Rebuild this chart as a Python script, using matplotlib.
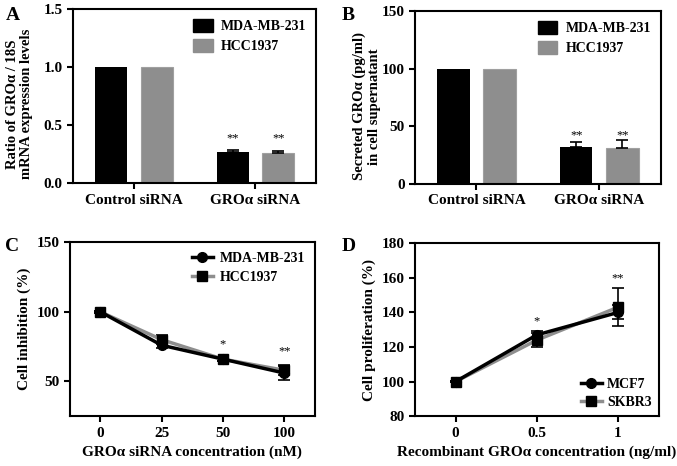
import numpy as np
import matplotlib
matplotlib.use("Agg")
import matplotlib.pyplot as plt
from matplotlib.patches import Patch
from matplotlib.lines import Line2D

plt.rcParams['font.family'] = ['Liberation Serif', 'DejaVu Serif']
plt.rcParams['font.weight'] = 'bold'
plt.rcParams['axes.linewidth'] = 1.5

# panel A / B data
groups = ["Control siRNA", "GROα siRNA"]
a_mda = [1.0, 0.27]
a_mda_err = [0.0, 0.015]
a_hcc = [1.0, 0.26]
a_hcc_err = [0.0, 0.02]
b_mda = [100, 32]
b_mda_err = [0, 4.5]
b_hcc = [100, 31]
b_hcc_err = [0, 7]

# panel C data
c_labels = ["0", "25", "50", "100"]
c_mda = [100, 76, 66, 56]
c_mda_err = [0.5, 2, 1.5, 5]
c_hcc = [100, 80, 66, 58]
c_hcc_err = [0.5, 3, 1.5, 3.5]

# panel D data
d_x = [0, 0.5, 1]
d_labels = ["0", "0.5", "1"]
d_mcf = [100, 127, 140]
d_mcf_err = [0.5, 2, 4]
d_skb = [100, 124, 143]
d_skb_err = [0.5, 4, 11]

black = "#000000"
gray = "#8e8e8e"

fig = plt.figure(figsize=(6.77, 4.66), dpi=100)
axA = fig.add_axes([0.108, 0.607, 0.359, 0.373])
axB = fig.add_axes([0.613, 0.605, 0.363, 0.371])
axC = fig.add_axes([0.103, 0.107, 0.362, 0.373])
axD = fig.add_axes([0.613, 0.107, 0.360, 0.371])


def style(ax):
    for s in ax.spines.values():
        s.set_linewidth(1.5)
    ax.tick_params(direction='out', length=4, width=1.5, labelsize=11)
    for t in ax.get_xticklabels() + ax.get_yticklabels():
        t.set_fontweight('bold')


def bars(ax, m, me, h, he, ylim, yticks, ylabel, star_y):
    x = np.arange(len(groups))
    w = 0.264
    off = 0.188
    ax.bar(x - off, m, w, color=black, zorder=2)
    ax.bar(x + off, h, w, color=gray, edgecolor="#a0a0a0", linewidth=0.8, zorder=2)
    # only the knockdown group has error bars
    ax.errorbar([1 - off], [m[1]], yerr=[[0], [me[1]]], fmt='none', ecolor=black,
                elinewidth=1.2, capsize=4, capthick=1.2, zorder=3)
    ax.errorbar([1 + off], [h[1]], yerr=[[0], [he[1]]], fmt='none', ecolor=black,
                elinewidth=1.2, capsize=4, capthick=1.2, zorder=3)
    ax.text(1 - off, star_y, "**", ha='center', va='center', fontsize=9, fontweight='normal')
    ax.text(1 + off, star_y, "**", ha='center', va='center', fontsize=9, fontweight='normal')
    ax.set_xlim(-0.5, 1.5)
    ax.set_ylim(*ylim)
    ax.set_yticks(yticks)
    ax.set_xticks(x)
    ax.set_xticklabels(groups)
    ax.set_ylabel(ylabel, fontsize=10.5, fontweight='bold', linespacing=1.15)
    handles = [Patch(color=black), Patch(color=gray)]
    ax.legend(handles, ["MDA-MB-231", "HCC1937"], loc='upper right', frameon=False,
              handlelength=1.4, handleheight=1.1, borderaxespad=0.3,
              labelspacing=0.4, handletextpad=0.6, prop=dict(weight='bold', size=10))
    style(ax)


bars(axA, a_mda, a_mda_err, a_hcc, a_hcc_err, (0, 1.5), [0.0, 0.5, 1.0, 1.5],
     "Ratio of GROα / 18S\nmRNA expression levels", 0.39)
axA.set_yticklabels(["0.0", "0.5", "1.0", "1.5"])
axA.yaxis.set_label_coords(-0.165, 0.455)
bars(axB, b_mda, b_mda_err, b_hcc, b_hcc_err, (0, 150), [0, 50, 100, 150],
     "Secreted GROα (pg/ml)\nin cell supernatant", 42.5)
axB.yaxis.set_label_coords(-0.14, 0.45)
style(axA)
style(axB)

# panel C
xc = np.arange(len(c_labels))
axC.errorbar(xc, c_hcc, yerr=c_hcc_err, color=gray, lw=2.5, marker='s', ms=7,
             mfc=black, mec=black, ecolor=black, elinewidth=1.2, capsize=4, capthick=1.2)
axC.errorbar(xc, c_mda, yerr=c_mda_err, color=black, lw=2.5, marker='o', ms=7,
             mfc=black, mec=black, ecolor=black, elinewidth=1.2, capsize=4, capthick=1.2)
axC.text(2, 77, "*", ha='center', va='center', fontsize=9, fontweight='normal')
axC.text(3, 71.5, "**", ha='center', va='center', fontsize=9, fontweight='normal')
axC.set_xlim(-0.5, 3.5)
axC.set_ylim(25, 150)
axC.set_yticks([50, 100, 150])
axC.set_xticks(xc)
axC.set_xticklabels(c_labels)
axC.set_xlabel("GROα siRNA concentration (nM)", fontsize=11, fontweight='bold')
axC.set_ylabel("Cell inhibition (%)", fontsize=11, fontweight='bold')
hC = [Line2D([], [], color=black, lw=2.5, marker='o', ms=7),
      Line2D([], [], color=gray, lw=2.5, marker='s', ms=7, mfc=black, mec=black)]
axC.legend(hC, ["MDA-MB-231", "HCC1937"], loc='upper right', frameon=False,
           handlelength=1.5, borderaxespad=0.3, labelspacing=0.4, handletextpad=0.5,
           prop=dict(weight='bold', size=10))
style(axC)

# panel D
axD.errorbar(d_x, d_skb, yerr=d_skb_err, color=gray, lw=2.5, marker='s', ms=7,
             mfc=black, mec=black, ecolor=black, elinewidth=1.2, capsize=4, capthick=1.2)
axD.errorbar(d_x, d_mcf, yerr=d_mcf_err, color=black, lw=2.5, marker='o', ms=7,
             mfc=black, mec=black, ecolor=black, elinewidth=1.2, capsize=4, capthick=1.2)
axD.text(0.5, 135, "*", ha='center', va='center', fontsize=9, fontweight='normal')
axD.text(1, 160, "**", ha='center', va='center', fontsize=9, fontweight='normal')
axD.set_xlim(-0.25, 1.25)
axD.set_ylim(80, 180)
axD.set_yticks([80, 100, 120, 140, 160, 180])
axD.set_xticks(d_x)
axD.set_xticklabels(d_labels)
axD.set_xlabel("Recombinant GROα concentration (ng/ml)", fontsize=11, fontweight='bold')
axD.set_ylabel("Cell proliferation (%)", fontsize=11, fontweight='bold')
hD = [Line2D([], [], color=black, lw=2.5, marker='o', ms=7),
      Line2D([], [], color=gray, lw=2.5, marker='s', ms=7, mfc=black, mec=black)]
axD.legend(hD, ["MCF7", "SKBR3"], loc='lower right', frameon=False,
           handlelength=1.5, borderaxespad=0.1, labelspacing=0.4, handletextpad=0.4,
           prop=dict(weight='bold', size=10))
style(axD)

for lab, x, y in [("A", 0.008, 0.985), ("B", 0.505, 0.985), ("C", 0.008, 0.49), ("D", 0.505, 0.49)]:
    fig.text(x, y, lab, fontsize=14, fontweight='bold', va='top', ha='left')

fig.savefig("out.png", dpi=100)
